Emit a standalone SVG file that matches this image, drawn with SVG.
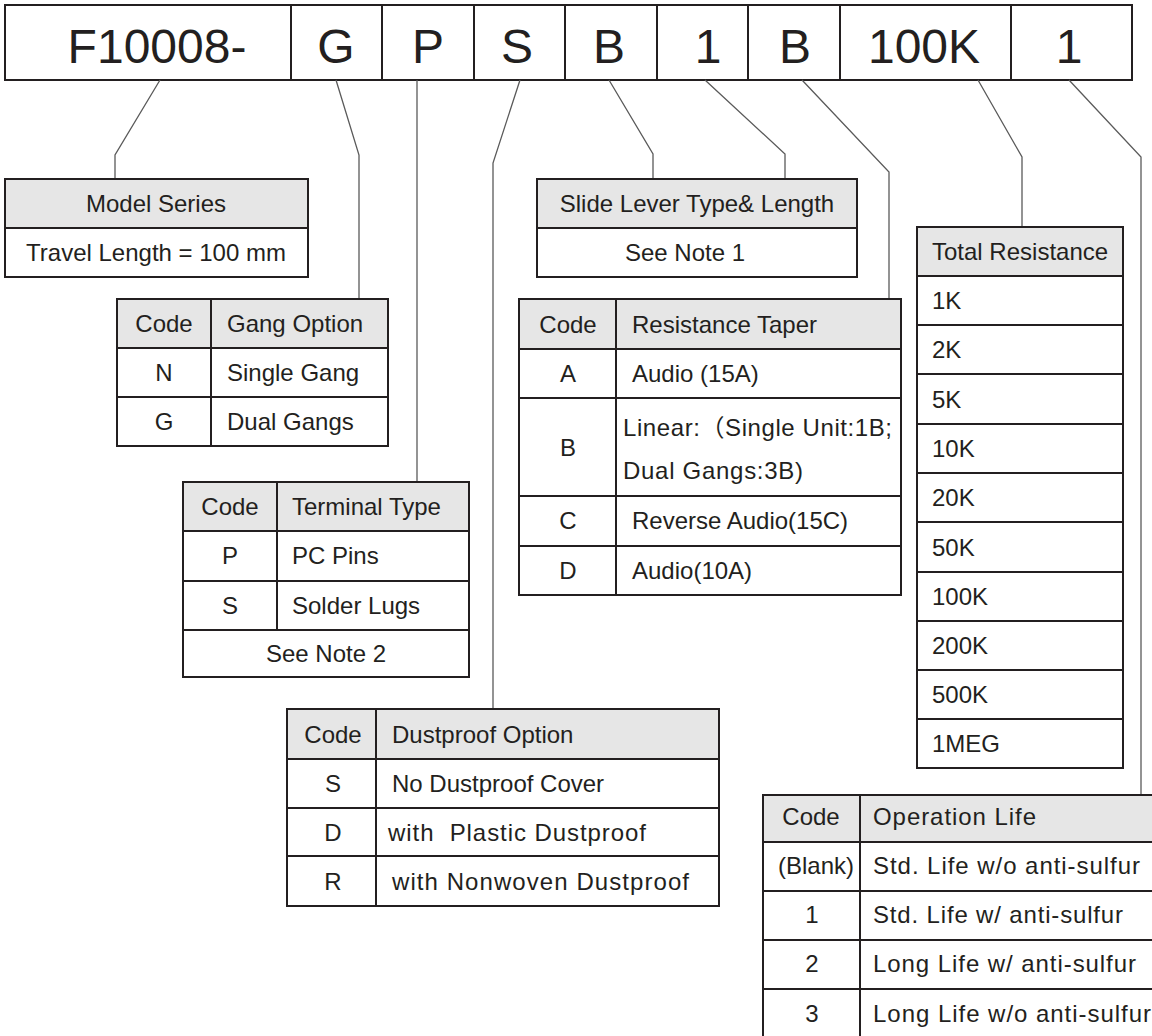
<svg xmlns="http://www.w3.org/2000/svg" width="1152" height="1036" viewBox="0 0 1152 1036">
<style>
.bg{fill:#ffffff}
.box{fill:none;stroke:#231f20;stroke-width:2}
.hdr{fill:#e6e6e6}
.ln{stroke:#231f20;stroke-width:2}
.conn{fill:none;stroke:#5a5a5a;stroke-width:1.3}
.t{font-family:"Liberation Sans",Arial,"Noto Sans CJK SC",sans-serif;font-size:24px;fill:#231f20}
.c{text-anchor:middle}
.big{font-size:48px}
</style>
<rect class="bg" x="0" y="0" width="1152" height="1036"/>

<g id="part-number">
<rect class="box" x="5" y="5" width="1127" height="75"/>
<line class="ln" x1="291" y1="5" x2="291" y2="80"/>
<line class="ln" x1="382" y1="5" x2="382" y2="80"/>
<line class="ln" x1="474" y1="5" x2="474" y2="80"/>
<line class="ln" x1="565" y1="5" x2="565" y2="80"/>
<line class="ln" x1="657" y1="5" x2="657" y2="80"/>
<line class="ln" x1="748" y1="5" x2="748" y2="80"/>
<line class="ln" x1="840" y1="5" x2="840" y2="80"/>
<line class="ln" x1="1011" y1="5" x2="1011" y2="80"/>
<text class="t big c" x="157" y="63">F10008-</text>
<text class="t big c" x="336" y="63">G</text>
<text class="t big c" x="428" y="63">P</text>
<text class="t big c" x="517" y="63">S</text>
<text class="t big c" x="609" y="63">B</text>
<text class="t big c" x="708" y="63">1</text>
<text class="t big c" x="795" y="63">B</text>
<text class="t big c" x="924" y="63">100K</text>
<text class="t big c" x="1069" y="63">1</text>
</g>

<g id="connectors">
<polyline class="conn" points="160,80 115,155 115,179"/>
<polyline class="conn" points="336,80 359,155 359,299"/>
<polyline class="conn" points="417,80 417,482"/>
<polyline class="conn" points="520,80 493,163 493,709"/>
<polyline class="conn" points="609,80 653,154 653,179"/>
<polyline class="conn" points="705,80 785,154 785,179"/>
<polyline class="conn" points="802,80 889,172 889,299"/>
<polyline class="conn" points="978,80 1022,157 1022,227"/>
<polyline class="conn" points="1069,80 1141,157 1141,795"/>
</g>

<g id="model-series">
<rect class="hdr" x="5" y="179" width="303" height="49"/>
<rect class="box" x="5" y="179" width="303" height="98"/>
<line class="ln" x1="5" y1="228" x2="308" y2="228"/>
<text class="t c" x="156" y="212">Model Series</text>
<text class="t c" x="156" y="261">Travel Length = 100 mm</text>
</g>

<g id="gang-option">
<rect class="hdr" x="117" y="299" width="271" height="49"/>
<rect class="box" x="117" y="299" width="271" height="147"/>
<line class="ln" x1="117" y1="348" x2="388" y2="348"/>
<line class="ln" x1="117" y1="397" x2="388" y2="397"/>
<line class="ln" x1="211" y1="299" x2="211" y2="446"/>
<text class="t c" x="164" y="332">Code</text>
<text class="t" x="227" y="332">Gang Option</text>
<text class="t c" x="164" y="381">N</text>
<text class="t" x="227" y="381">Single Gang</text>
<text class="t c" x="164" y="430">G</text>
<text class="t" x="227" y="430">Dual Gangs</text>
</g>

<g id="terminal-type">
<rect class="hdr" x="183" y="482" width="286" height="49"/>
<rect class="box" x="183" y="482" width="286" height="195"/>
<line class="ln" x1="183" y1="531" x2="469" y2="531"/>
<line class="ln" x1="183" y1="581" x2="469" y2="581"/>
<line class="ln" x1="183" y1="630" x2="469" y2="630"/>
<line class="ln" x1="277" y1="482" x2="277" y2="630"/>
<text class="t c" x="230" y="515">Code</text>
<text class="t" x="292" y="515">Terminal Type</text>
<text class="t c" x="230" y="564">P</text>
<text class="t" x="292" y="564">PC Pins</text>
<text class="t c" x="230" y="614">S</text>
<text class="t" x="292" y="614">Solder Lugs</text>
<text class="t c" x="326" y="662">See Note 2</text>
</g>

<g id="dustproof-option">
<rect class="hdr" x="287" y="709" width="432" height="50"/>
<rect class="box" x="287" y="709" width="432" height="197"/>
<line class="ln" x1="287" y1="759" x2="719" y2="759"/>
<line class="ln" x1="287" y1="808" x2="719" y2="808"/>
<line class="ln" x1="287" y1="856" x2="719" y2="856"/>
<line class="ln" x1="376" y1="709" x2="376" y2="906"/>
<text class="t c" x="333" y="743">Code</text>
<text class="t" x="392" y="743">Dustproof Option</text>
<text class="t c" x="333" y="792">S</text>
<text class="t" x="392" y="792">No Dustproof Cover</text>
<text class="t c" x="333" y="841">D</text>
<text class="t" x="388" y="841" textLength="258" lengthAdjust="spacing" xml:space="preserve">with  Plastic Dustproof</text>
<text class="t c" x="333" y="890">R</text>
<text class="t" x="392" y="890" textLength="297" lengthAdjust="spacing">with Nonwoven Dustproof</text>
</g>

<g id="slide-lever">
<rect class="hdr" x="537" y="179" width="320" height="49"/>
<rect class="box" x="537" y="179" width="320" height="98"/>
<line class="ln" x1="537" y1="228" x2="857" y2="228"/>
<text class="t c" x="697" y="212">Slide Lever Type&amp; Length</text>
<text class="t c" x="685" y="261">See Note 1</text>
</g>

<g id="resistance-taper">
<rect class="hdr" x="519" y="299" width="382" height="50"/>
<rect class="box" x="519" y="299" width="382" height="296"/>
<line class="ln" x1="519" y1="349" x2="901" y2="349"/>
<line class="ln" x1="519" y1="398" x2="901" y2="398"/>
<line class="ln" x1="519" y1="496" x2="901" y2="496"/>
<line class="ln" x1="519" y1="546" x2="901" y2="546"/>
<line class="ln" x1="616" y1="299" x2="616" y2="595"/>
<text class="t c" x="568" y="333">Code</text>
<text class="t" x="632" y="333">Resistance Taper</text>
<text class="t c" x="568" y="382">A</text>
<text class="t" x="632" y="382">Audio (15A)</text>
<text class="t c" x="568" y="456">B</text>
<text class="t" x="623" y="436" textLength="269" lengthAdjust="spacing">Linear:（Single Unit:1B;</text>
<text class="t" x="623" y="479" textLength="180" lengthAdjust="spacing">Dual Gangs:3B)</text>
<text class="t c" x="568" y="529">C</text>
<text class="t" x="632" y="529">Reverse Audio(15C)</text>
<text class="t c" x="568" y="579">D</text>
<text class="t" x="632" y="579">Audio(10A)</text>
</g>

<g id="total-resistance">
<rect class="hdr" x="917" y="227" width="206" height="49"/>
<rect class="box" x="917" y="227" width="206" height="541"/>
<line class="ln" x1="917" y1="276" x2="1123" y2="276"/>
<line class="ln" x1="917" y1="325" x2="1123" y2="325"/>
<line class="ln" x1="917" y1="374" x2="1123" y2="374"/>
<line class="ln" x1="917" y1="424" x2="1123" y2="424"/>
<line class="ln" x1="917" y1="473" x2="1123" y2="473"/>
<line class="ln" x1="917" y1="522" x2="1123" y2="522"/>
<line class="ln" x1="917" y1="572" x2="1123" y2="572"/>
<line class="ln" x1="917" y1="621" x2="1123" y2="621"/>
<line class="ln" x1="917" y1="670" x2="1123" y2="670"/>
<line class="ln" x1="917" y1="719" x2="1123" y2="719"/>
<text class="t" x="932" y="260">Total Resistance</text>
<text class="t" x="932" y="309">1K</text>
<text class="t" x="932" y="358">2K</text>
<text class="t" x="932" y="408">5K</text>
<text class="t" x="932" y="457">10K</text>
<text class="t" x="932" y="506">20K</text>
<text class="t" x="932" y="556">50K</text>
<text class="t" x="932" y="605">100K</text>
<text class="t" x="932" y="654">200K</text>
<text class="t" x="932" y="703">500K</text>
<text class="t" x="932" y="752">1MEG</text>
</g>

<g id="operation-life">
<rect class="hdr" x="763" y="795" width="400" height="47"/>
<rect class="box" x="763" y="795" width="400" height="245"/>
<line class="ln" x1="763" y1="842" x2="1163" y2="842"/>
<line class="ln" x1="763" y1="891" x2="1163" y2="891"/>
<line class="ln" x1="763" y1="940" x2="1163" y2="940"/>
<line class="ln" x1="763" y1="989" x2="1163" y2="989"/>
<line class="ln" x1="860" y1="795" x2="860" y2="1040"/>
<text class="t c" x="811" y="825">Code</text>
<text class="t" x="873" y="825" textLength="163" lengthAdjust="spacing">Operation Life</text>
<text class="t c" x="816" y="874">(Blank)</text>
<text class="t" x="873" y="874" textLength="267" lengthAdjust="spacing">Std. Life w/o anti-sulfur</text>
<text class="t c" x="812" y="923">1</text>
<text class="t" x="873" y="923" textLength="250" lengthAdjust="spacing">Std. Life w/ anti-sulfur</text>
<text class="t c" x="812" y="972">2</text>
<text class="t" x="873" y="972" textLength="263" lengthAdjust="spacing">Long Life w/ anti-sulfur</text>
<text class="t c" x="812" y="1022">3</text>
<text class="t" x="873" y="1022" textLength="278" lengthAdjust="spacing">Long Life w/o anti-sulfur</text>
</g>
</svg>
